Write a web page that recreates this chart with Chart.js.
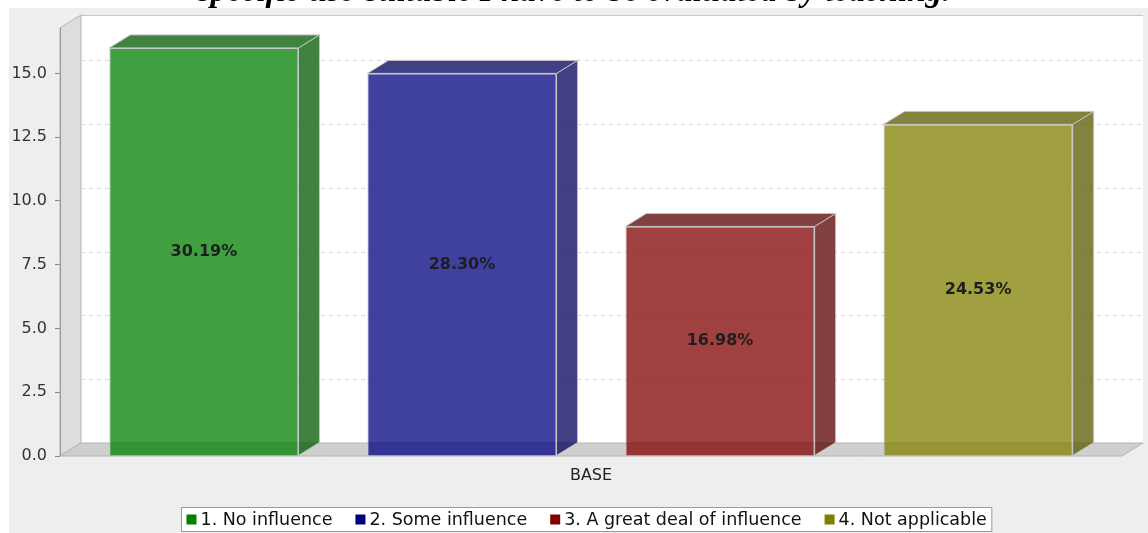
<!DOCTYPE html>
<html>
<head>
<meta charset="utf-8">
<script src="https://cdn.jsdelivr.net/npm/chart.js@4.4.0/dist/chart.umd.min.js"></script>
<style>
  html, body { margin: 0; padding: 0; background: #fff; }
  #wrap { width: 1148px; height: 533px; }
</style>
</head>
<body>
<div id="wrap"><canvas id="baseChart" width="1148" height="533"></canvas></div>
<script>
// data
const titleText = 'specific use-suitable I have to be evaluated by teaching.';
const categories = ['BASE'];
const seriesNames = ['1. No influence', '2. Some influence', '3. A great deal of influence', '4. Not applicable'];
const counts = [16, 15, 9, 13];
const yTicks = [0, 2.5, 5, 7.5, 10, 12.5, 15];
const seriesColors = [[0, 128, 0], [0, 0, 128], [128, 0, 0], [128, 128, 0]];

const total = counts.reduce((a, b) => a + b, 0);
const DX = 21, DY = 13; // 3d depth offset
const FONT = '"DejaVu Sans", sans-serif';

function rgba(c, a, k) {
  k = k || 1;
  return 'rgba(' + Math.round(c[0] * k) + ',' + Math.round(c[1] * k) + ',' + Math.round(c[2] * k) + ',' + a + ')';
}

function poly(ctx, pts, fill, stroke) {
  ctx.beginPath();
  ctx.moveTo(pts[0][0], pts[0][1]);
  for (let i = 1; i < pts.length; i++) ctx.lineTo(pts[i][0], pts[i][1]);
  ctx.closePath();
  if (fill) { ctx.fillStyle = fill; ctx.fill(); }
  if (stroke) { ctx.strokeStyle = stroke; ctx.lineWidth = 1; ctx.stroke(); }
}

const bar3d = {
  id: 'bar3d',
  beforeDraw(chart) {
    const ctx = chart.ctx;
    ctx.save();
    ctx.fillStyle = '#ffffff';
    ctx.fillRect(0, 0, chart.width, chart.height);
    ctx.fillStyle = '#eeeeee';
    ctx.fillRect(9, 8, chart.width - 9, chart.height - 8);
    // title, mostly cut off at the top edge
    ctx.fillStyle = '#000';
    ctx.font = 'italic bold 33px "Liberation Serif", serif';
    ctx.textAlign = 'center';
    ctx.textBaseline = 'alphabetic';
    ctx.fillText(titleText, chart.width / 2, 1);
    ctx.restore();
  },
  beforeDatasetsDraw(chart) {
    const ctx = chart.ctx;
    const a = chart.chartArea;
    const y = chart.scales.y;
    const L = a.left, R = a.right, T = a.top, B = a.bottom;
    ctx.save();
    // back wall
    poly(ctx, [[L + DX, T - DY], [R + DX, T - DY], [R + DX, B - DY], [L + DX, B - DY]], '#ffffff', null);
    ctx.strokeStyle = '#c8c8c8';
    ctx.beginPath();
    ctx.moveTo(L + DX, T - DY + 0.5); ctx.lineTo(R + DX, T - DY + 0.5);
    ctx.stroke();
    // side wall
    poly(ctx, [[L, B], [L, T], [L + DX, T - DY], [L + DX, B - DY]], '#dddddd', '#b4b4b4');
    // grid lines on the back wall and side wall
    ctx.setLineDash([4, 4]);
    ctx.strokeStyle = '#d4d4d4';
    yTicks.forEach(v => {
      if (v === 0) return;
      const py = Math.round(y.getPixelForValue(v)) + 0.5;
      ctx.beginPath();
      ctx.moveTo(L + DX, py - DY); ctx.lineTo(R + DX, py - DY);
      ctx.stroke();
      ctx.beginPath();
      ctx.moveTo(L, py); ctx.lineTo(L + DX, py - DY);
      ctx.stroke();
    });
    ctx.setLineDash([]);
    // floor
    poly(ctx, [[L, B], [R, B], [R + DX, B - DY], [L + DX, B - DY]], '#cfcfcf', '#b4b4b4');
    // front axis edge
    ctx.strokeStyle = '#999';
    ctx.beginPath();
    ctx.moveTo(L + 0.5, T); ctx.lineTo(L + 0.5, B);
    ctx.stroke();
    // side and top faces of each bar
    chart.data.datasets.forEach((ds, i) => {
      const meta = chart.getDatasetMeta(i);
      const c = seriesColors[i];
      meta.data.forEach(bar => {
        const l = bar.x - bar.width / 2, r = bar.x + bar.width / 2, t = bar.y, b = bar.base;
        poly(ctx, [[r, b], [r + DX, b - DY], [r + DX, t - DY], [r, t]], rgba(c, 0.75, 0.7), '#c4c4c4');
        poly(ctx, [[l, t], [l + DX, t - DY], [r + DX, t - DY], [r, t]], rgba(c, 0.75, 0.7), '#c4c4c4');
      });
    });
    ctx.restore();
  },
  afterDatasetsDraw(chart) {
    const ctx = chart.ctx;
    ctx.save();
    ctx.font = 'bold 16px ' + FONT;
    ctx.fillStyle = '#1e1e1e';
    ctx.textAlign = 'center';
    ctx.textBaseline = 'middle';
    chart.data.datasets.forEach((ds, i) => {
      chart.getDatasetMeta(i).data.forEach((bar, j) => {
        const pct = (ds.data[j] / total * 100).toFixed(2) + '%';
        ctx.fillText(pct, bar.x, (bar.y + bar.base) / 2);
      });
    });
    ctx.restore();
  },
  afterDraw(chart) {
    // legend box
    const ctx = chart.ctx;
    ctx.save();
    ctx.font = '17.5px ' + FONT;
    const box = 10, gapText = 4, gapItem = 23, margin = 5;
    const widths = seriesNames.map(n => box + gapText + ctx.measureText(n).width);
    const inner = widths.reduce((a, b) => a + b, 0) + gapItem * (widths.length - 1);
    const w = inner + margin * 2;
    const left = Math.round(586 - w / 2) + 0.5;
    const top = 507.5, h = 24;
    ctx.fillStyle = '#ffffff';
    ctx.fillRect(left, top, w, h);
    ctx.strokeStyle = '#9a9a9a';
    ctx.lineWidth = 1;
    ctx.strokeRect(left, top, w, h);
    let x = left + margin;
    const cy = top + h / 2;
    ctx.textBaseline = 'middle';
    ctx.textAlign = 'left';
    seriesNames.forEach((n, i) => {
      ctx.fillStyle = rgba(seriesColors[i], 1);
      ctx.fillRect(x, cy - box / 2, box, box);
      ctx.fillStyle = '#111';
      ctx.fillText(n, x + box + gapText, cy + 1);
      x += widths[i] + gapItem;
    });
    ctx.restore();
  }
};

const ctx = document.getElementById('baseChart').getContext('2d');

const myChart = new Chart(ctx, {
  type: 'bar',
  data: {
    labels: categories,
    datasets: seriesNames.map((name, i) => ({
      label: name,
      data: [counts[i]],
      backgroundColor: rgba(seriesColors[i], 0.75),
      borderColor: '#c8c8c8',
      borderWidth: 1,
      categoryPercentage: 0.972,
      barPercentage: 0.733
    }))
  },
  options: {
    responsive: false,
    animation: false,
    layout: { padding: { left: 0, right: 26, top: 28, bottom: 0 } },
    plugins: {
      legend: { display: false },
      tooltip: { enabled: false }
    },
    scales: {
      x: {
        grid: { display: false, drawTicks: false },
        border: { display: false },
        ticks: { color: '#222', font: { family: FONT, size: 16 }, padding: 10 },
        afterFit(scale) { scale.height = 77; }
      },
      y: {
        min: 0,
        max: 16.78,
        grid: { drawOnChartArea: false, drawTicks: true, tickLength: 5, color: '#888' },
        border: { display: false },
        ticks: {
          color: '#333',
          font: { family: FONT, size: 16 },
          padding: 8,
          callback: v => Number(v).toFixed(1)
        },
        afterBuildTicks(scale) { scale.ticks = yTicks.map(v => ({ value: v })); },
        afterFit(scale) { scale.width = 60; }
      }
    }
  },
  plugins: [bar3d]
});
</script>
</body>
</html>
